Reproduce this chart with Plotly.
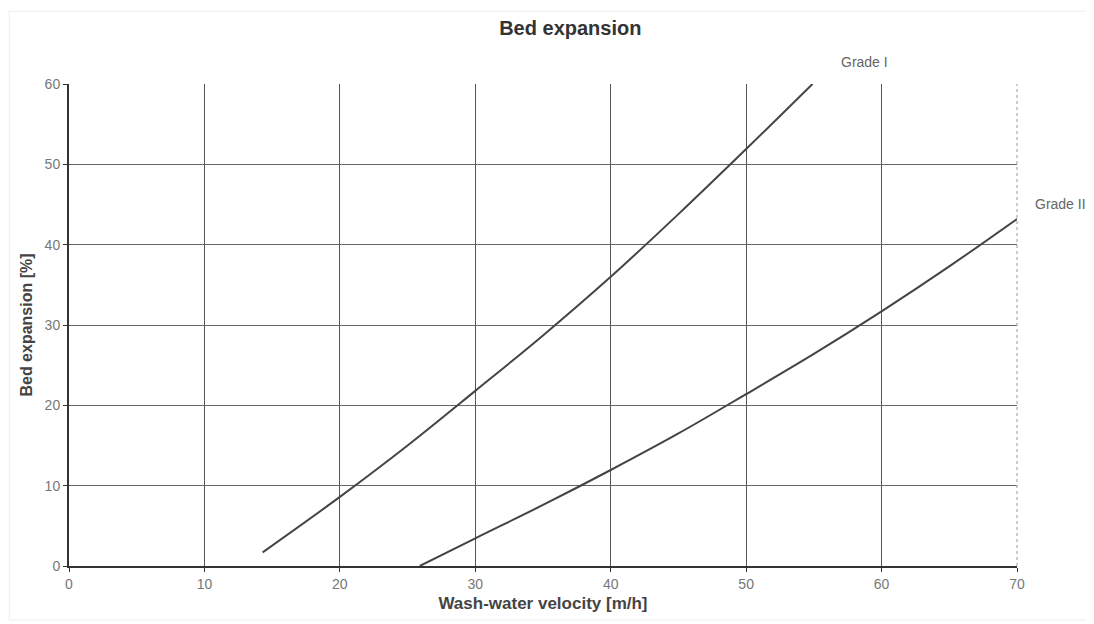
import plotly.graph_objects as go

# Data
grade1_x = [14.3, 20, 25, 30, 35, 40, 45, 50, 54.9]
grade1_y = [1.7, 8.6, 15.0, 21.8, 28.7, 36.0, 43.8, 51.9, 60.0]
grade2_x = [25.9, 30, 35, 40, 45, 50, 55, 60, 65, 70]
grade2_y = [0.0, 3.45, 7.6, 11.95, 16.5, 21.4, 26.4, 31.7, 37.3, 43.2]
x_ticks = [0, 10, 20, 30, 40, 50, 60, 70]
y_ticks = [0, 10, 20, 30, 40, 50, 60]

FONT = "Liberation Sans, Arial, sans-serif"
LINE = "#444444"

fig = go.Figure()
fig.add_trace(go.Scatter(x=grade1_x, y=grade1_y, mode="lines", name="Grade I",
                         line=dict(color=LINE, width=2, shape="spline"),
                         showlegend=False))
fig.add_trace(go.Scatter(x=grade2_x, y=grade2_y, mode="lines", name="Grade II",
                         line=dict(color=LINE, width=2, shape="spline"),
                         showlegend=False))

# Series labels
fig.add_annotation(x=grade1_x[-1], y=grade1_y[-1], text="Grade I", showarrow=False,
                   xanchor="left", yanchor="middle", xshift=26, yshift=22,
                   font=dict(family=FONT, size=14, color="#666666"))
fig.add_annotation(x=grade2_x[-1], y=grade2_y[-1], text="Grade II", showarrow=False,
                   xanchor="left", yanchor="middle", xshift=16, yshift=15,
                   font=dict(family=FONT, size=14, color="#666666"))

# dotted right border
fig.add_shape(type="line", xref="paper", yref="paper", x0=1, x1=1, y0=0, y1=1,
              line=dict(color="#999999", width=1, dash="dot"))
# faint outer frame
fig.add_shape(type="rect", xref="paper", yref="paper", x0=-0.063, x1=1.077, y0=-0.112, y1=1.151,
              line=dict(color="#eeeeee", width=1))

fig.update_layout(
    width=1094, height=624,
    margin=dict(l=61, r=85, t=76, b=66),
    paper_bgcolor="white", plot_bgcolor="white",
    title=dict(text="<b>Bed expansion</b>", x=0.514, xanchor="center", y=0.968, yanchor="middle",
               font=dict(family=FONT, size=20, color="#333333")),
    xaxis=dict(range=[0, 70], tickvals=x_ticks, showgrid=True, gridcolor="#555555", gridwidth=1,
               showline=True, linecolor="#333333", linewidth=2, ticks="outside", ticklen=4,
               tickcolor="#333333", zeroline=False,
               tickfont=dict(family=FONT, size=14, color="#777777"),
               title=dict(text="<b>Wash-water velocity [m/h]</b>", standoff=6,
                          font=dict(family=FONT, size=17, color="#444444"))),
    yaxis=dict(range=[0, 60], tickvals=y_ticks, showgrid=True, gridcolor="#666666", gridwidth=1,
               showline=True, linecolor="#333333", linewidth=2, ticks="outside", ticklen=4,
               tickcolor="#333333", zeroline=False,
               tickfont=dict(family=FONT, size=14, color="#777777"),
               title=dict(text="<b>Bed expansion [%]</b>", standoff=8,
                          font=dict(family=FONT, size=16, color="#444444"))),
)

fig.write_html("out.html")
